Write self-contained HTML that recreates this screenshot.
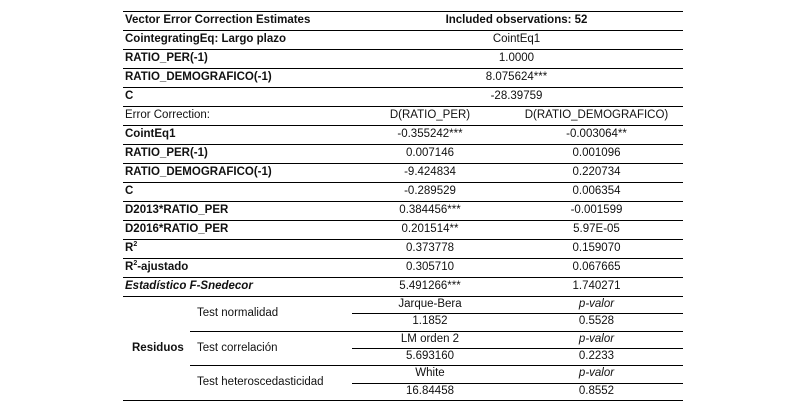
<!DOCTYPE html>
<html><head><style>
body{margin:0;width:809px;height:410px;background:#fff;position:relative;overflow:hidden;font-family:"Liberation Sans",sans-serif;font-size:11.5px;color:#111}
.l{position:absolute;height:1px;background:#000}
.t{position:absolute;white-space:nowrap;line-height:19px}
.b{font-weight:bold}
.c{text-align:center}
sup{font-size:7px;line-height:0;vertical-align:5px}
</style></head><body>
<script>
var g=document.body;
function L(y,x1,x2){var d=document.createElement('div');d.className='l';d.style.top=y+'px';d.style.left=x1+'px';d.style.width=(x2-x1)+'px';g.appendChild(d);}
function T(y,x,w,txt,cls,h){var d=document.createElement('div');d.className='t '+(cls||'');d.style.top=y+'px';d.style.left=x+'px';if(w)d.style.width=w+'px';if(h)d.style.lineHeight=h+'px';d.innerHTML=txt;g.appendChild(d);}
var rows=[
['Vector Error Correction Estimates','<b>Included observations: 52</b>',null],
['CointegratingEq: Largo plazo','CointEq1',null],
['RATIO_PER(-1)','1.0000',null],
['RATIO_DEMOGRAFICO(-1)','8.075624***',null],
['C','-28.39759',null],
['<span style="font-weight:normal">Error Correction:</span>','D(RATIO_PER)','D(RATIO_DEMOGRAFICO)'],
['CointEq1','-0.355242***','-0.003064**'],
['RATIO_PER(-1)','0.007146','0.001096'],
['RATIO_DEMOGRAFICO(-1)','-9.424834','0.220734'],
['C','-0.289529','0.006354'],
['D2013*RATIO_PER','0.384456***','-0.001599'],
['D2016*RATIO_PER','0.201514**','5.97E-05'],
['R<sup>2</sup>','0.373778','0.159070'],
['R<sup>2</sup>-ajustado','0.305710','0.067665'],
['<i>Estadístico F-Snedecor</i>','5.491266***','1.740271']
];
var x0=123,x1=683,cm=350,c2=510,rh=19,y0=11;
L(y0,x0,x1);
for(var i=0;i<rows.length;i++){var y=y0+i*rh;var r=rows[i];
T(y,x0+2,0,r[0],'b');
if(r[2]===null){T(y,cm,x1-cm,r[1],'c');}else{T(y,cm,c2-cm,r[1],'c');T(y,c2,x1-c2,r[2],'c');}
L(y+rh,x0,x1);}
var ys=y0+15*rh,sh=(400-ys)/6;
var sub=[['Jarque-Bera','<i>p-valor</i>'],['1.1852','0.5528'],['LM orden 2','<i>p-valor</i>'],['5.693160','0.2233'],['White','<i>p-valor</i>'],['16.84458','0.8552']];
for(var j=0;j<6;j++){var y=ys+j*sh;T(y,cm,c2-cm,sub[j][0],'c',sh);T(y,c2,x1-c2,sub[j][1],'c',sh);
if(j%2==0)L(y+sh,352,x1);else if(j<5)L(y+sh,190,x1);}
L(400,x0,x1);
T(ys+2*sh,132,0,'Residuos','b',2*sh);
T(ys,197,0,'Test normalidad','',2*sh);
T(ys+2*sh,197,0,'Test correlación','',2*sh);
T(ys+4*sh,197,0,'Test heteroscedasticidad','',2*sh);
</script>
</body></html>
